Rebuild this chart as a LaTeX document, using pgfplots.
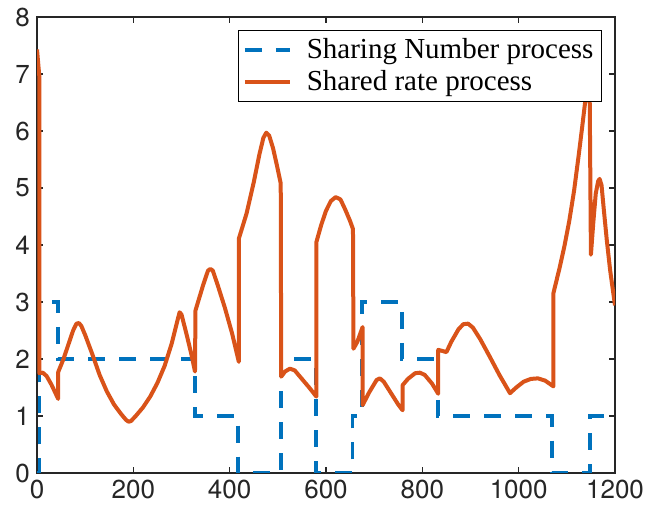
\documentclass[border=0pt]{standalone}
\usepackage{fontspec}
\setmainfont{Liberation Serif}
\newfontfamily\helv{TeX Gyre Heros}
\usepackage{pgfplots}
\pgfplotsset{compat=1.18}
\definecolor{mblue}{rgb}{0,0.447,0.741}
\definecolor{morange}{rgb}{0.85,0.325,0.098}
\definecolor{axgray}{rgb}{0.15,0.15,0.15}

\begin{document}
\begin{tikzpicture}
\begin{axis}[
  name=ax,
  scale only axis, width=289pt, height=228pt,
  xmin=0, xmax=1200, ymin=0, ymax=8,
  xtick={0,200,...,1200}, ytick={0,1,...,8},
  tick align=inside, major tick length=3pt,
  axis line style={axgray, line width=0.6pt},
  tick style={axgray, line width=0.6pt},
  ticklabel style={font=\helv\fontsize{13}{15}\selectfont, text=axgray},
  /pgf/number format/assume math mode=true,
  scaled ticks=false,
  xticklabel style={/pgf/number format/1000 sep={}},
  legend cell align=left,
  legend style={at={(1,1)}, anchor=north east, xshift=-6.5pt, yshift=-6.5pt,
    draw=black, line width=0.5pt, fill=white,
    font=\fontsize{14.5}{17}\selectfont,
    inner xsep=2pt, inner ysep=2pt, row sep=0.5pt,
    /tikz/every odd column/.append style={column sep=5.5pt}},
  legend image code/.code={\draw[#1] (0pt,0pt) -- (22.5pt,0pt);},
]
% number of users sharing the channel (step process)
\addplot[mblue, line width=1.9pt, dash pattern=on 8.5pt off 7pt] coordinates {
  (0,0) (5,0) (5,3) (44,3) (44,2) (328,2) (328,1) (418,1) (418,0)
  (506,0) (506,2) (579,2) (579,0) (655,0) (655,1) (674,1) (674,3)
  (758,3) (758,2) (833,2) (833,1) (1070,1) (1070,0) (1148,0) (1148,1) (1200,1)
};
\addlegendentry{Sharing Number process}
% rate obtained by each sharing user
\addplot[morange, line width=2pt, line join=round] coordinates {
  (0,7.43) (5,6.94) (5,1.75) (12,1.76) (20,1.7) (30,1.55) (44,1.3)
  (44,1.77) (55,2.0) (65,2.25) (75,2.5) (82,2.62) (87,2.63) (92,2.58)
  (100,2.42) (115,2.08) (130,1.72) (145,1.43) (160,1.2) (175,1.03)
  (185,0.93) (190,0.9) (195,0.91) (205,1.0) (220,1.15) (235,1.34)
  (250,1.58) (265,1.88) (280,2.28) (290,2.62) (296,2.82) (300,2.78)
  (310,2.45) (320,2.1) (328,1.78)
  (329,2.85) (345,3.3) (355,3.55) (360,3.58) (365,3.55) (375,3.3)
  (390,2.9) (405,2.45) (419,1.95)
  (419,4.11) (435,4.55) (450,5.1) (462,5.6) (470,5.88) (476,5.97)
  (482,5.92) (490,5.7) (498,5.4) (506,5.08)
  (507,1.69) (515,1.78) (525,1.83) (535,1.8) (550,1.65) (565,1.5) (580,1.34)
  (580,4.05) (590,4.35) (600,4.6) (610,4.77) (620,4.84) (630,4.8)
  (640,4.62) (650,4.42) (656,4.28)
  (657,2.18) (665,2.3) (676,2.56)
  (676,1.19) (690,1.42) (705,1.63) (712,1.66) (720,1.6) (735,1.4)
  (750,1.2) (759,1.1)
  (759,1.54) (770,1.65) (785,1.75) (795,1.76) (805,1.72) (820,1.57) (833,1.39)
  (833,2.16) (842,2.14) (850,2.12) (860,2.3) (875,2.52) (885,2.61)
  (895,2.62) (905,2.55) (920,2.35) (940,2.04) (960,1.72) (982,1.40)
  (995,1.5) (1010,1.6) (1025,1.65) (1040,1.66) (1055,1.62) (1072,1.52)
  (1072,3.15) (1085,3.6) (1095,3.98) (1105,4.42) (1115,4.95) (1125,5.6)
  (1133,6.15) (1140,6.65) (1145,7.05) (1147,7.1)
  (1150,3.83) (1155,4.4) (1160,4.9) (1165,5.12) (1168,5.16) (1172,5.05)
  (1177,4.6) (1183,4.08) (1190,3.55) (1200,2.94)
};
\addlegendentry{Shared rate process}
\end{axis}
\pgfresetboundingbox
\path ([xshift=-18.5pt,yshift=-17.5pt]ax.south west) rectangle ([xshift=16pt,yshift=8.5pt]ax.north east);
\end{tikzpicture}
\end{document}
